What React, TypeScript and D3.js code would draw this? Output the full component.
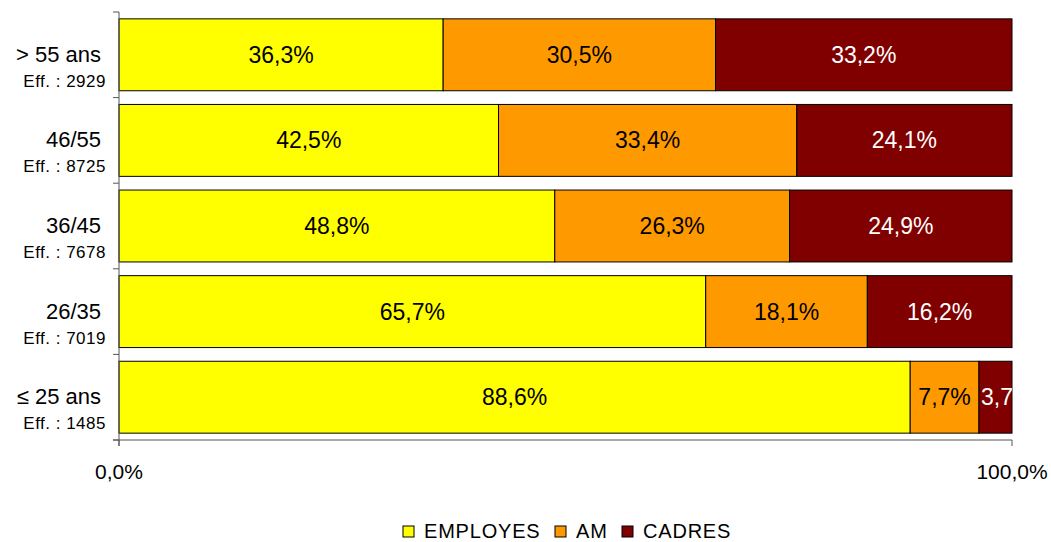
import * as d3 from 'd3';

const categories = ['> 55 ans', '46/55', '36/45', '26/35', '≤ 25 ans'];
const effectifs = ['2929', '8725', '7678', '7019', '1485'];
const employes = [36.3, 42.5, 48.8, 65.7, 88.6];
const am = [30.5, 33.4, 26.3, 18.1, 7.7];
const cadres = [33.2, 24.1, 24.9, 16.2, 3.7];
const seriesNames = ['EMPLOYES', 'AM', 'CADRES'];
const seriesColors = ['#FFFF00', '#FF9900', '#800000'];
const labelColors = ['#000', '#000', '#fff'];
const xTicks = [0, 100];

const fmt = (v: number) => v.toFixed(1).replace('.', ',') + '%';

// largeur approx. d'un libellé (Liberation Sans)
const textWidth = (s: string, size: number) =>
  s.split('').reduce((w, ch) => w + (ch === ',' ? 0.278 : ch === '%' ? 0.889 : 0.556), 0) * size;

export default function App() {
  const W = 1051;
  const H = 542;
  const left = 119;
  const right = 1012;
  const top = 12;
  const bottom = 440;
  const valueSize = 23;

  const x = d3.scaleLinear().domain([0, 100]).range([left, right]);
  const y = d3.scaleBand<string>().domain(categories).range([top, bottom]).paddingInner(0.16).paddingOuter(0.08);
  const values = [employes, am, cadres];

  const rows = categories.map((c, i) => {
    let acc = 0;
    return values.map((s, k) => {
      const x0 = acc;
      acc += s[i];
      return { k, x0, x1: acc, v: s[i], c };
    });
  });

  const step = (bottom - top) / categories.length;
  const font = 'Liberation Sans, Arial, sans-serif';

  const legendX = [403, 555, 622];

  return (
    <svg width={W} height={H} style={{ position: 'absolute', left: 0, top: 0 }} fontFamily={font}>
      <defs>
        <clipPath id="plot">
          <rect x={left} y={top} width={right - left} height={bottom - top} />
        </clipPath>
      </defs>
      {rows.map((segs, i) =>
        segs.map((s) => (
          <rect
            key={`${i}-${s.k}`}
            x={x(s.x0)}
            y={y(s.c)!}
            width={x(s.x1) - x(s.x0)}
            height={y.bandwidth()}
            fill={seriesColors[s.k]}
            stroke="#000"
            strokeWidth={1}
          />
        ))
      )}
      <g clipPath="url(#plot)">
        {rows.map((segs, i) =>
          segs.map((s) => {
            const label = fmt(s.v);
            const segW = x(s.x1) - x(s.x0);
            const fits = textWidth(label, valueSize) + 4 < segW;
            return (
              <text
                key={`t${i}-${s.k}`}
                x={fits ? (x(s.x0) + x(s.x1)) / 2 : x(s.x0) + 2}
                y={y(s.c)! + y.bandwidth() / 2 + 8}
                textAnchor={fits ? 'middle' : 'start'}
                fontSize={valueSize}
                fill={labelColors[s.k]}
              >
                {label}
              </text>
            );
          })
        )}
      </g>
      {/* axe y */}
      <line x1={left} x2={left} y1={top} y2={bottom + 6} stroke="#555" strokeWidth={1} />
      {d3.range(categories.length + 1).map((j) => (
        <line key={`yt${j}`} x1={left - 6} x2={left} y1={top + j * step} y2={top + j * step} stroke="#555" />
      ))}
      {/* axe x */}
      <line x1={left - 6} x2={right} y1={bottom} y2={bottom} stroke="#555" strokeWidth={1} />
      {xTicks.map((t) => (
        <g key={`xt${t}`}>
          <line x1={x(t)} x2={x(t)} y1={bottom} y2={bottom + 6} stroke="#555" />
          <text x={x(t)} y={bottom + 39} textAnchor="middle" fontSize={21} fill="#000">
            {fmt(t)}
          </text>
        </g>
      ))}
      {categories.map((c, i) => {
        const cy = y(c)! + y.bandwidth() / 2;
        return (
          <g key={`cl${i}`}>
            <text x={101} y={cy + 7} textAnchor="end" fontSize={22} fill="#000">
              {c}
            </text>
            <text x={106} y={cy + 32} textAnchor="end" fontSize={17} letterSpacing={0.5} fill="#000">
              {`Eff. : ${effectifs[i]}`}
            </text>
          </g>
        );
      })}
      {seriesNames.map((n, k) => (
        <g key={`lg${k}`}>
          <rect x={legendX[k]} y={526} width={11} height={11} fill={seriesColors[k]} stroke="#000" />
          <text x={legendX[k] + 21} y={538} fontSize={20} letterSpacing={0.8} fill="#000">
            {n}
          </text>
        </g>
      ))}
    </svg>
  );
}
